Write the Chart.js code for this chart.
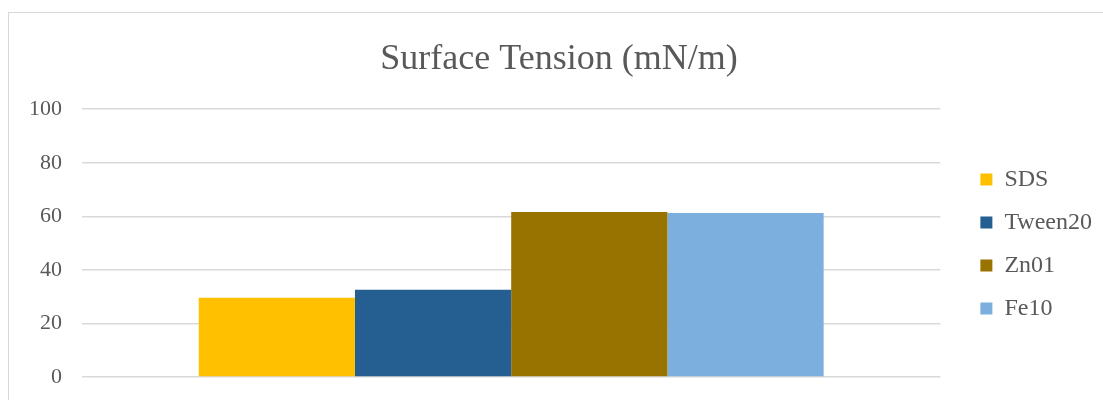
<!DOCTYPE html>
<html>
<head>
<meta charset="utf-8">
<script src="https://cdn.jsdelivr.net/npm/chart.js@4/dist/chart.umd.min.js"></script>
<style>
    body { margin: 0; background: #fff; overflow: hidden; }
    #frame {
        position: absolute;
        left: 8px;
        top: 12px;
        width: 1100px;
        height: 400px;
        border: 1px solid #d9d9d9;
        box-sizing: border-box;
    }
</style>
</head>
<body>
<div id="frame"><canvas id="tensionChart"></canvas></div>
<script>
// Data
const categories = [''];
const seriesNames = ['SDS', 'Tween20', 'Zn01', 'Fe10'];
const seriesValues = [[29.6], [32.6], [61.6], [61.2]];
const seriesColors = ['#ffc000', '#255e91', '#997300', '#7cafdd'];
const yTicks = [0, 20, 40, 60, 80, 100];

const serif = "'Liberation Serif', 'Times New Roman', serif";
const textColor = '#595959';

// nudge title and legend to where Excel put them
const nudgeBoxes = {
    id: 'nudgeBoxes',
    afterLayout(chart) {
        if (chart.legend) {
            chart.legend.left += 21;
            chart.legend.right += 21;
            chart.legend.top += 45;
            chart.legend.bottom += 45;
        }
        if (chart.titleBlock) {
            chart.titleBlock.left += 14;
            chart.titleBlock.right += 14;
        }
    }
};

const datasets = seriesNames.map((name, i) => ({
    label: name,
    data: seriesValues[i],
    backgroundColor: seriesColors[i],
    borderWidth: 0,
    categoryPercentage: 0.728,
    barPercentage: 1.0
}));

const ctx = document.getElementById('tensionChart').getContext('2d');
const tensionChart = new Chart(ctx, {
    type: 'bar',
    data: { labels: categories, datasets: datasets },
    plugins: [nudgeBoxes],
    options: {
        responsive: true,
        maintainAspectRatio: false,
        animation: false,
        layout: {
            padding: { left: 0, right: 26, top: 0, bottom: 26 }
        },
        scales: {
            x: {
                grid: { display: false },
                border: { display: false },
                ticks: { display: false }
            },
            y: {
                min: 0,
                max: 100,
                afterBuildTicks(scale) {
                    scale.ticks = yTicks.map(v => ({ value: v }));
                },
                grid: { color: '#d9d9d9', lineWidth: 1.5, drawTicks: false },
                border: { display: false },
                ticks: {
                    padding: 20,
                    color: textColor,
                    font: { family: serif, size: 22 }
                }
            }
        },
        plugins: {
            title: {
                display: true,
                text: 'Surface Tension (mN/m)',
                color: textColor,
                font: { family: serif, size: 36, weight: 'normal' },
                padding: { top: 25, bottom: 28 }
            },
            legend: {
                position: 'right',
                labels: {
                    boxWidth: 12,
                    boxHeight: 12,
                    padding: 19,
                    color: textColor,
                    font: { family: serif, size: 24 }
                }
            },
            tooltip: { enabled: false }
        }
    }
});
</script>
</body>
</html>
